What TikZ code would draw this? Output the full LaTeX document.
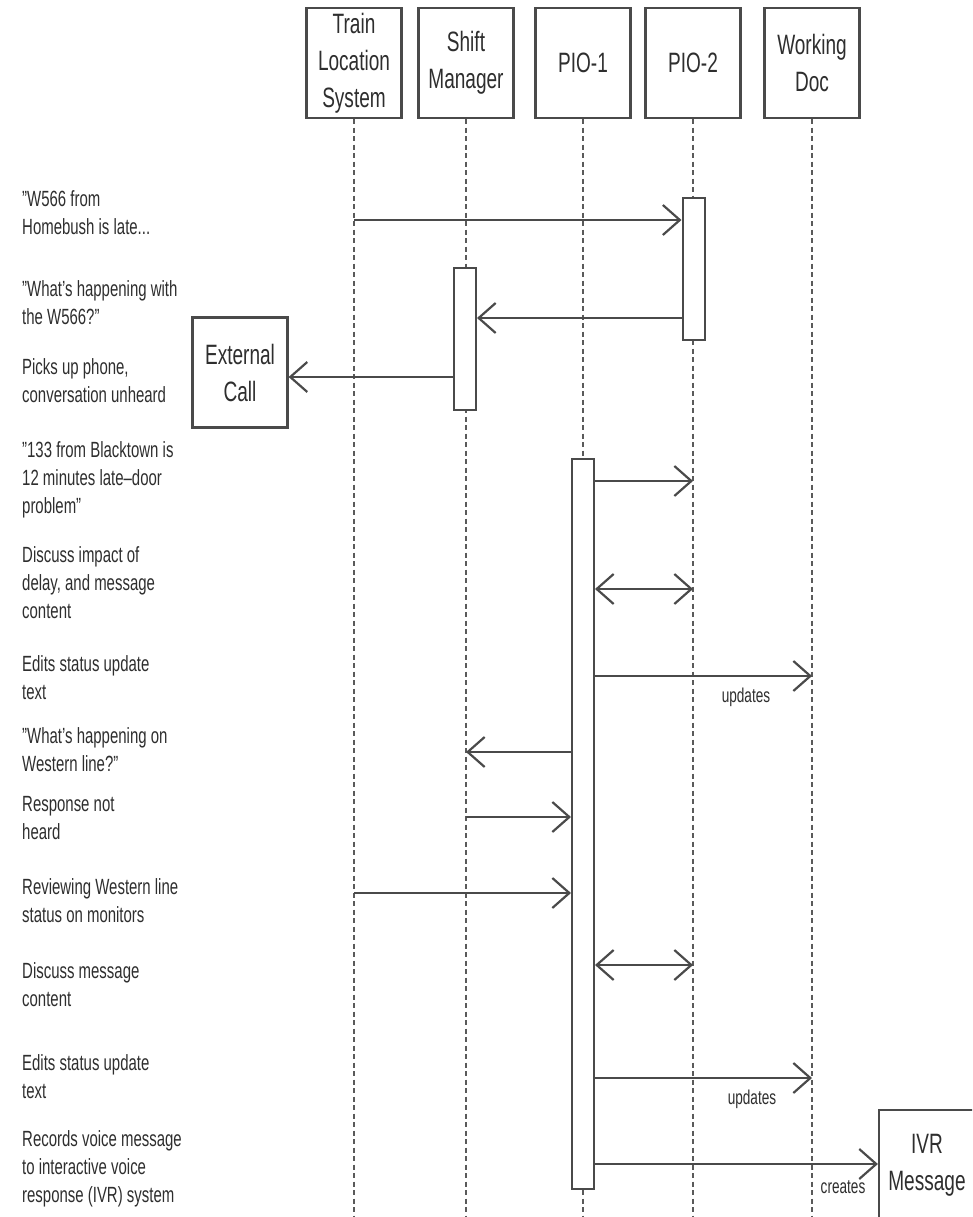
\documentclass[tikz,border=0pt]{standalone}
\usepackage{fontspec}
\setmainfont{Liberation Sans}[FakeStretch=0.68]
\usepackage{xcolor}
\usepackage{tikz}
\usetikzlibrary{positioning,arrows.meta}
\definecolor{ink}{HTML}{2E2E2E}
\definecolor{wire}{HTML}{4A4A4A}
\definecolor{life}{HTML}{5A5A5A}
\tikzset{
  actor/.style={draw=wire,line width=2.2pt,fill=white,align=center,minimum width=95pt,minimum height=110pt,inner sep=0pt,text=ink,font=\fontsize{28}{37}\selectfont},
  bar/.style={draw=wire,line width=2pt,fill=white,minimum width=22pt,inner sep=0pt},
  lifeline/.style={draw=life,line width=1.6pt,dash pattern=on 5pt off 3.5pt},
  msg/.style={-{Straight Barb[length=17pt,width=30pt]},draw=wire,line width=2.2pt},
  dialog/.style={{Straight Barb[length=17pt,width=30pt]}-{Straight Barb[length=17pt,width=30pt]},draw=wire,line width=2.2pt},
  note/.style={anchor=west,align=left,inner sep=0pt,text=ink,font=\fontsize{22}{28}\selectfont},
  tinylabel/.style={inner sep=0pt,text=ink,font=\fontsize{20}{24}\selectfont}
}

\begin{document}
\begin{tikzpicture}[x=1pt,y=-1pt]
  \useasboundingbox (0,0) rectangle (972,1217);
  \clip (0,0) rectangle (972,1217);
  \coordinate (bottom) at (0,1217);
  \node[actor] (tls) at (354,63) {Train\\Location\\System};
  \node[actor] (sm) at (466,63) {Shift\\Manager};
  \node[actor] (pio1) at (583,63) {PIO-1};
  \node[actor] (pio2) at (693,63) {PIO-2};
  \node[actor] (wd) at (812,63) {Working\\Doc};
  \foreach \who in {tls,sm,pio1,pio2,wd}
    \draw[lifeline] (\who.south) -- (\who.south |- bottom);
  \node[actor] (ext) at (240,372.5) {External\\Call};
  \node[actor,minimum width=96pt] (ivr) at (927,1165) {IVR\\Message};
  \node[bar,minimum height=142pt] (pio2bar) at (693.5,269) {};
  \node[bar,minimum height=142pt] (smbar) at (465,339) {};
  \node[bar,minimum height=730pt] (pio1bar) at (583,824) {};

  \node[note] (n1) at (22,213) {"W566 from\\Homebush is late...};
  \node[note] (n2) at (22,302.5) {"What's happening with\\the W566?"};
  \node[note] (n3) at (22,381) {Picks up phone,\\conversation unheard};
  \node[note] (n4) at (22,480) {"133 from Blacktown is\\12 minutes late--door\\problem"};
  \node[note] (n5) at (22,583) {Discuss impact of\\delay, and message\\content};
  \node[note] (n6) at (22,677.5) {Edits status update\\text};
  \node[note] (n7) at (22,750) {"What's happening on\\Western line?"};
  \node[note] (n8) at (22,818.5) {Response not\\heard};
  \node[note] (n9) at (22,901) {Reviewing Western line\\status on monitors};
  \node[note] (n10) at (22,985) {Discuss message\\content};
  \node[note] (n11) at (22,1076.5) {Edits status update\\text};
  \node[note] (n12) at (22,1169) {Records voice message\\to interactive voice\\response (IVR) system};

  \coordinate (m1) at (0,220);
  \coordinate (m2) at (0,318);
  \coordinate (m3) at (0,377);
  \coordinate (m4) at (0,481);
  \coordinate (m5) at (0,589);
  \coordinate (m6) at (0,676);
  \coordinate (m7) at (0,752);
  \coordinate (m8) at (0,817);
  \coordinate (m9) at (0,893);
  \coordinate (m10) at (0,965);
  \coordinate (m11) at (0,1078);
  \coordinate (m12) at (0,1164);
  \draw[msg] (tls |- m1) -- (pio2bar.west |- m1);
  \draw[msg] (pio2bar.west |- m2) -- (smbar.east |- m2);
  \draw[msg] (smbar.west |- m3) -- (ext.east |- m3);
  \draw[msg] (pio1bar.east |- m4) -- (pio2 |- m4);
  \draw[dialog] (pio1bar.east |- m5) -- (pio2 |- m5);
  \draw[msg] (pio1bar.east |- m6) -- (wd |- m6);
  \draw[msg] (pio1bar.west |- m7) -- (sm |- m7);
  \draw[msg] (sm |- m8) -- (pio1bar.west |- m8);
  \draw[msg] (tls |- m9) -- (pio1bar.west |- m9);
  \draw[dialog] (pio1bar.east |- m10) -- (pio2 |- m10);
  \draw[msg] (pio1bar.east |- m11) -- (wd |- m11);
  \draw[msg] (pio1bar.east |- m12) -- (ivr.west |- m12);
  \node[tinylabel] (upd1) at (746,697) {updates};
  \node[tinylabel] (upd2) at (752,1099) {updates};
  \node[tinylabel] (make) at (843,1187) {creates};
\end{tikzpicture}
\end{document}
